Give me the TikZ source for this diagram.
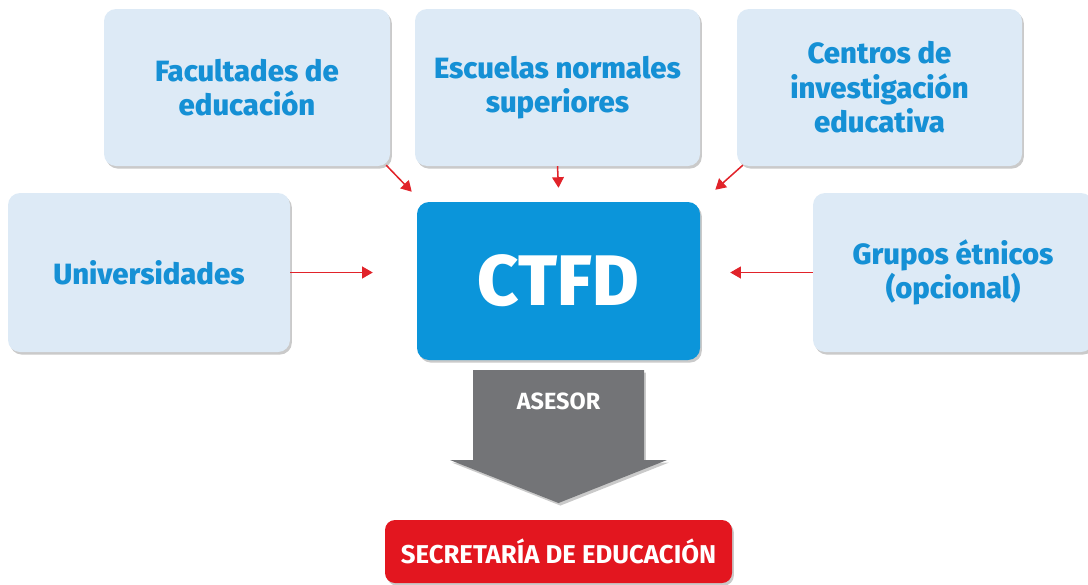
\documentclass[tikz,border=0pt]{standalone}
\usepackage{fontspec}
\setmainfont{Fira Sans}
\newfontfamily\heavyfont{Fira Sans ExtraBold}
\usetikzlibrary{calc,shadows,arrows.meta}
\definecolor{boxfill}{HTML}{DDEAF6}
\definecolor{boxtext}{HTML}{1590D5}
\definecolor{ctfdblue}{HTML}{0B95DA}
\definecolor{arrowred}{HTML}{E1232A}
\definecolor{secred}{HTML}{E3161F}
\definecolor{asgray}{HTML}{737477}
\begin{document}
\begin{tikzpicture}[x=0.03cm,y=-0.03cm,
  shad/.style={drop shadow={opacity=0.35,shadow xshift=1.6pt,shadow yshift=-2.2pt,fill=black!60}},
  srcbox/.style={shad,fill=boxfill,rounded corners=0.36cm,align=center,text=boxtext,
     font=\heavyfont\fontsize{25pt}{29.5pt}\selectfont,inner sep=0pt},
  feed/.style={draw=arrowred,line width=1.3pt,-{Triangle[length=9pt,width=10pt]}}]
\useasboundingbox (0,0) rectangle (1088,584);
% source boxes
\node[srcbox,minimum width=286*0.03cm,minimum height=157*0.03cm] (fac) at (247,87.5) {Facultades de\\educación};
\node[srcbox,minimum width=285*0.03cm,minimum height=157*0.03cm] (esc) at (557.5,87.5) {Escuelas normales\\superiores};
\node[srcbox,minimum width=285*0.03cm,minimum height=157*0.03cm] (cen) at (879.5,87.5) {Centros de\\investigación\\educativa};
\node[srcbox,minimum width=282*0.03cm,minimum height=159*0.03cm] (uni) at (149,272.5) {Universidades};
\node[srcbox,minimum width=280*0.03cm,minimum height=159*0.03cm] (gru) at (953,272.5) {Grupos étnicos\\(opcional)};
% central box
\node[shad,fill=ctfdblue,rounded corners=0.36cm,text=white,inner sep=0pt,
  minimum width=283*0.03cm,minimum height=158*0.03cm,
  font=\heavyfont\fontsize{61pt}{61pt}\selectfont] (ctfd) at (558.5,281) {CTFD};
% feeding arrows
\draw[feed] ($(fac.south east)+(-4,-1)$) -- ($(ctfd.north west)+(-5,-10)$);
\draw[feed] (esc.south) -- ($(ctfd.north)+(0,-14)$);
\draw[feed] ($(cen.south west)+(6,-1)$) -- ($(ctfd.north east)+(15,-12)$);
\draw[feed] (uni.east) -- ($(uni.east -| ctfd.west)+(-44,0)$);
\draw[feed] (gru.west) -- ($(gru.west -| ctfd.east)+(30,0)$);
% big gray arrow
\coordinate (arrtip) at (558.5,503);
\fill[shad,asgray] (473,370) -- (644,370) -- (644,460) -- (667,460) -- (arrtip) -- (450,460) -- (473,460) -- cycle;
\node[text=white,font=\bfseries\fontsize{20pt}{20pt}\selectfont] (ases) at (558.5,401) {ASESOR};
% bottom box
\node[shad,fill=secred,rounded corners=0.3cm,text=white,inner sep=0pt,
  minimum width=347*0.03cm,minimum height=63*0.03cm,
  font=\bfseries\fontsize{22pt}{22pt}\selectfont] (sec) at (558.5,551.5) {SECRETARÍA DE EDUCACIÓN};
\end{tikzpicture}
\end{document}
